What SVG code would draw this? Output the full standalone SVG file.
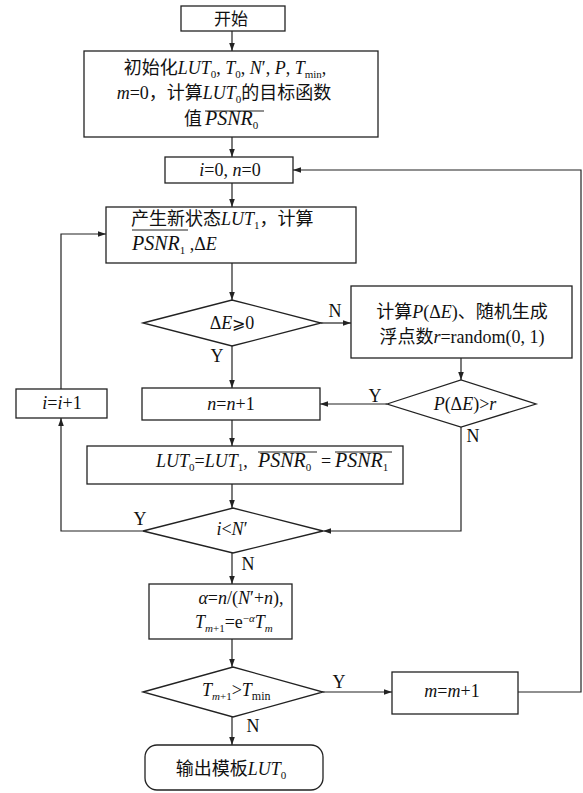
<svg xmlns="http://www.w3.org/2000/svg" width="583" height="793" viewBox="0 0 583 793">
<style>
text{font-family:"Liberation Serif","Noto Sans CJK SC",serif;font-size:18px;fill:#111}
.i{font-style:italic}
.s{font-size:11px}
.big{font-size:20px}
.m{text-anchor:middle}
.box{fill:#fff;stroke:#222;stroke-width:1.3}
.ln{fill:none;stroke:#222;stroke-width:1.2}
.ov{stroke:#222;stroke-width:1.2}
</style>
<defs>
<marker id="a" viewBox="0 0 10 10" refX="10" refY="5" markerWidth="8" markerHeight="8" markerUnits="userSpaceOnUse" orient="auto">
<path d="M0,1.5 L10,5 L0,8.5 Z" fill="#222"/>
</marker>
</defs>
<rect width="583" height="793" fill="#fff"/>
<g id="connectors">
<path class="ln" d="M232,31 V51" marker-end="url(#a)"/>
<path class="ln" d="M232,137 V157" marker-end="url(#a)"/>
<path class="ln" d="M232,183 V207" marker-end="url(#a)"/>
<path class="ln" d="M232,263 V300" marker-end="url(#a)"/>
<path class="ln" d="M232,346 V388" marker-end="url(#a)"/>
<path class="ln" d="M321,323 H351" marker-end="url(#a)"/>
<path class="ln" d="M461,358 V380" marker-end="url(#a)"/>
<path class="ln" d="M387,404 H320" marker-end="url(#a)"/>
<path class="ln" d="M461,427 V531 H323" marker-end="url(#a)"/>
<path class="ln" d="M232,420 V446" marker-end="url(#a)"/>
<path class="ln" d="M232,484 V508" marker-end="url(#a)"/>
<path class="ln" d="M143,531 H61 V418" marker-end="url(#a)"/>
<path class="ln" d="M61,389 V234 H106" marker-end="url(#a)"/>
<path class="ln" d="M232,553 V584" marker-end="url(#a)"/>
<path class="ln" d="M232,639 V667" marker-end="url(#a)"/>
<path class="ln" d="M323,692 H392" marker-end="url(#a)"/>
<path class="ln" d="M518,692 H581 V170 H293" marker-end="url(#a)"/>
<path class="ln" d="M232,717 V745" marker-end="url(#a)"/>
<text class="m" x="335" y="317">N</text>
<text class="m" x="217" y="362">Y</text>
<text class="m" x="375" y="402">Y</text>
<text class="m" x="473" y="442">N</text>
<text class="m" x="140" y="525">Y</text>
<text class="m" x="248" y="570">N</text>
<text class="m" x="339" y="688">Y</text>
<text class="m" x="253" y="732">N</text>
</g>
<g id="start">
<rect class="box" x="181" y="6" width="104" height="25"/>
<text class="m" x="231" y="25" style="font-size:17px">开始</text>
</g>
<g id="init">
<rect class="box" x="84" y="51" width="294" height="86"/>
<text class="m" x="225" y="74">初始化<tspan class="i">LUT</tspan><tspan class="s" dy="4">0</tspan><tspan dy="-4">, </tspan><tspan class="i">T</tspan><tspan class="s" dy="4">0</tspan><tspan dy="-4">, </tspan><tspan class="i">N</tspan>′, <tspan class="i">P</tspan>, <tspan class="i">T</tspan><tspan class="s" dy="4">min</tspan><tspan dy="-4">,</tspan></text>
<text class="m" x="224" y="99"><tspan class="i">m</tspan>=0，计算<tspan class="i">LUT</tspan><tspan class="s" dy="4">0</tspan><tspan dy="-4">的目标函数</tspan></text>
<text x="184" y="125">值</text>
<text class="big" x="205" y="125"><tspan class="i">PSNR</tspan><tspan class="s" dy="4">0</tspan></text>
<line class="ov" x1="205" y1="111" x2="264" y2="111"/>
</g>
<g id="init-loop">
<rect class="box" x="165" y="157" width="128" height="26"/>
<text class="m" x="230" y="176"><tspan class="i">i</tspan>=0, <tspan class="i">n</tspan>=0</text>
</g>
<g id="new-state">
<rect class="box" x="106" y="207" width="250" height="56"/>
<text x="131" y="225">产生新状态<tspan class="i">LUT</tspan><tspan class="s" dy="4">1</tspan><tspan dy="-4">，计算</tspan></text>
<text class="big" x="132" y="250"><tspan class="i">PSNR</tspan><tspan class="s" dy="4">1</tspan><tspan dy="-4" style="font-size:18px"> ,Δ</tspan><tspan class="i" style="font-size:18px">E</tspan></text>
<line class="ov" x1="132" y1="230" x2="188" y2="230"/>
</g>
<g id="cond-dE">
<polygon class="box" points="143,323 232,300 321,323 232,346"/>
<text class="m" x="232" y="329">Δ<tspan class="i">E</tspan><tspan style="font-family:'DejaVu Serif',serif;font-size:16px">⩾</tspan>0</text>
</g>
<g id="calc-p">
<rect class="box" x="351" y="286" width="221" height="72"/>
<text class="m" x="462" y="318">计算<tspan class="i">P</tspan>(Δ<tspan class="i">E</tspan>)、随机生成</text>
<text class="m" x="462" y="343">浮点数<tspan class="i">r</tspan>=random(0, 1)</text>
</g>
<g id="cond-p">
<polygon class="box" points="387,404 461,380 536,404 461,427"/>
<text class="m" x="465" y="410"><tspan class="i">P</tspan>(Δ<tspan class="i">E</tspan>)&gt;<tspan class="i">r</tspan></text>
</g>
<g id="inc-n">
<rect class="box" x="142" y="388" width="178" height="32"/>
<text class="m" x="231" y="410"><tspan class="i">n</tspan>=<tspan class="i">n</tspan>+1</text>
</g>
<g id="inc-i">
<rect class="box" x="16" y="389" width="91" height="29"/>
<text class="m" x="62" y="409"><tspan class="i">i</tspan>=<tspan class="i">i</tspan>+1</text>
</g>
<g id="update">
<rect class="box" x="87" y="446" width="316" height="38"/>
<text x="156" y="467"><tspan class="i">LUT</tspan><tspan class="s" dy="4">0</tspan><tspan dy="-4">=</tspan><tspan class="i">LUT</tspan><tspan class="s" dy="4">1</tspan><tspan dy="-4">,</tspan></text>
<text class="big" x="258" y="467"><tspan class="i">PSNR</tspan><tspan class="s" dy="4">0</tspan></text>
<text x="321" y="467">=</text>
<text class="big" x="335" y="467"><tspan class="i">PSNR</tspan><tspan class="s" dy="4">1</tspan></text>
<line class="ov" x1="258" y1="452" x2="317" y2="452"/>
<line class="ov" x1="335" y1="452" x2="392" y2="452"/>
</g>
<g id="cond-i">
<polygon class="box" points="143,531 233,508 323,531 233,553"/>
<text class="m" x="232" y="535"><tspan class="i">i</tspan>&lt;<tspan class="i">N</tspan>′</text>
</g>
<g id="cool">
<rect class="box" x="149" y="584" width="143" height="55"/>
<text class="m" x="241" y="604"><tspan class="i">α</tspan>=<tspan class="i">n</tspan>/(<tspan class="i">N</tspan>′+<tspan class="i">n</tspan>),</text>
<text x="195" y="628"><tspan class="i">T</tspan><tspan class="s i" dy="4">m</tspan><tspan class="s" dy="0">+1</tspan><tspan dy="-4">=e</tspan><tspan class="s" dy="-6">−</tspan><tspan class="s i">α</tspan><tspan class="i" dy="6">T</tspan><tspan class="s i" dy="4">m</tspan></text>
</g>
<g id="cond-t">
<polygon class="box" points="143,692 233,667 323,692 233,717"/>
<text x="202" y="696"><tspan class="i">T</tspan><tspan class="s i" dy="4">m</tspan><tspan class="s">+1</tspan><tspan dy="-4">&gt;</tspan><tspan class="i">T</tspan><tspan class="s" dy="4" style="font-size:12px">min</tspan></text>
</g>
<g id="inc-m">
<rect class="box" x="392" y="672" width="126" height="42"/>
<text class="m" x="452" y="697"><tspan class="i">m</tspan>=<tspan class="i">m</tspan>+1</text>
</g>
<g id="output">
<rect class="box" x="145" y="745" width="178" height="45" rx="12" ry="12"/>
<text class="m" x="231" y="775">输出模板<tspan class="i">LUT</tspan><tspan class="s" dy="4">0</tspan></text>
</g>
</svg>
